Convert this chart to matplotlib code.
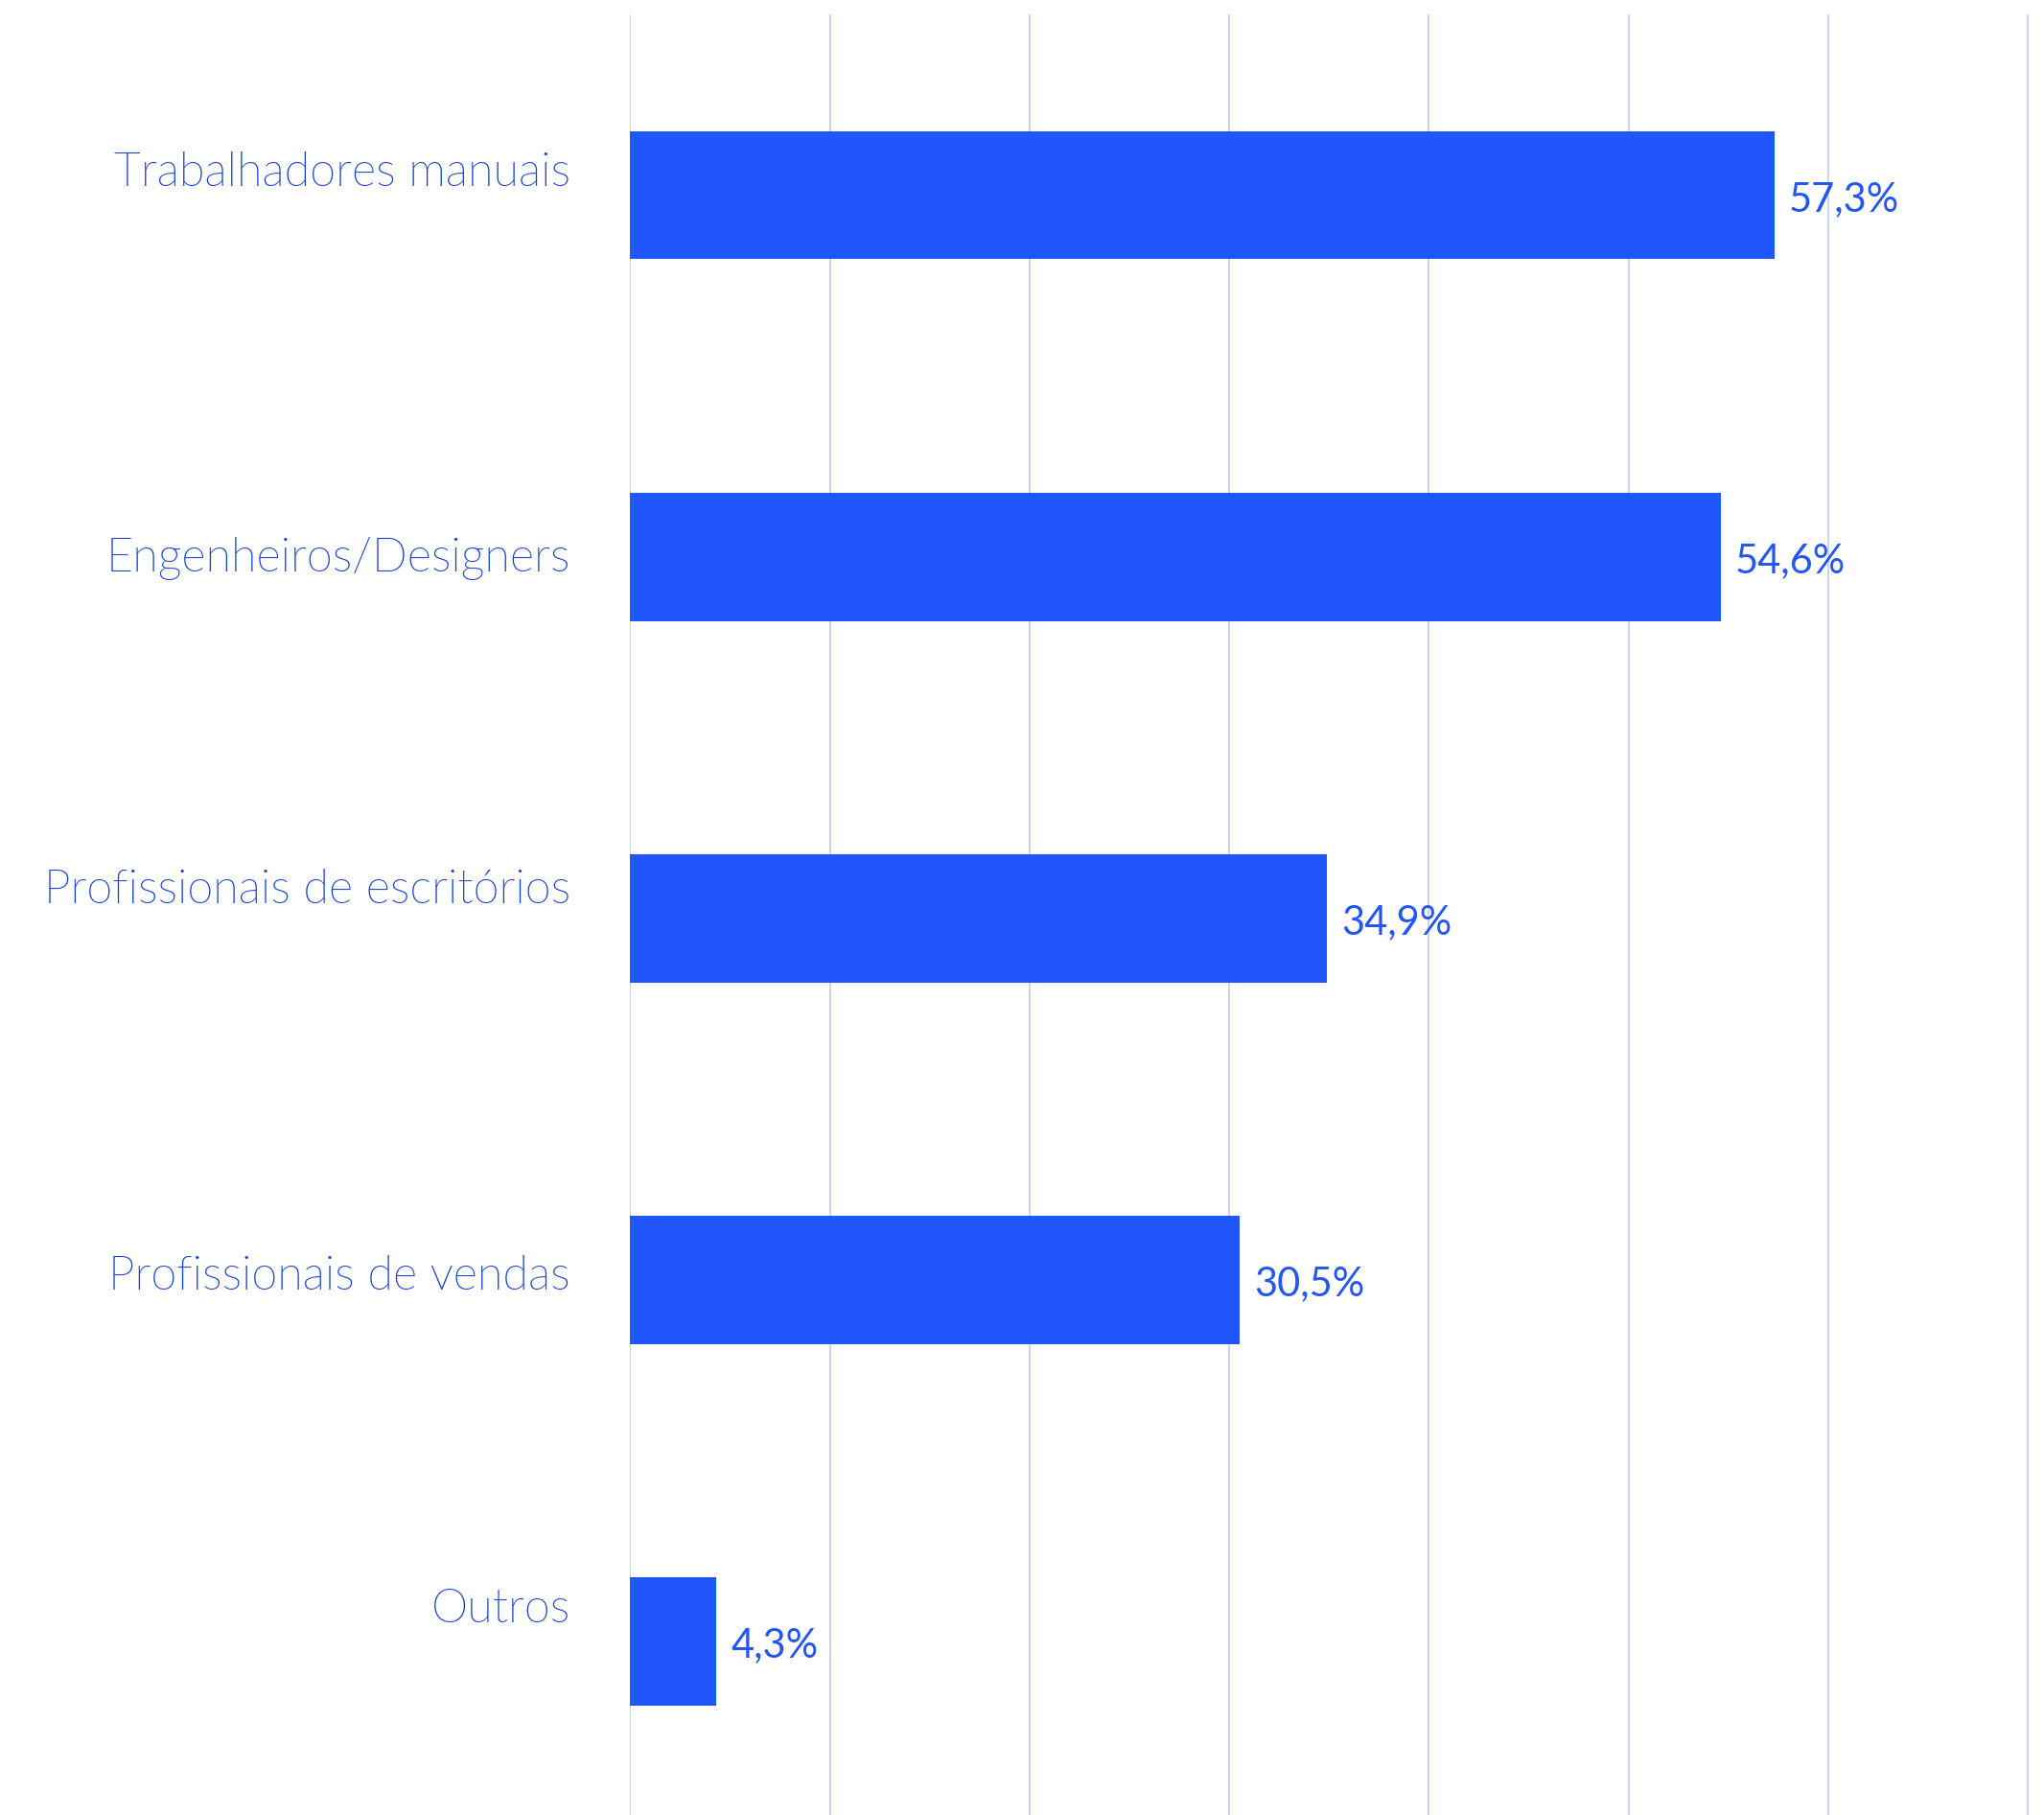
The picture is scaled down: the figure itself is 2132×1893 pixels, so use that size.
import os
import matplotlib.pyplot as plt
from matplotlib import font_manager
from matplotlib.ticker import MultipleLocator

# data
categories = ['Trabalhadores manuais', 'Engenheiros/Designers',
              'Profissionais de escritórios', 'Profissionais de vendas', 'Outros']
values = [57.3, 54.6, 34.9, 30.5, 4.3]
value_labels = ['57,3%', '54,6%', '34,9%', '30,5%', '4,3%']

# the category labels are not placed evenly against the bars in the original;
# baseline distance below bar centre, in pixels
label_baseline_px = [-9.7, 15.2, -15.4, 10.0, -20.3]

bar_color = '#1f57fc'
label_color = '#123fd0'
value_color = '#2356f2'
grid_color = '#c6d4fb'

plt.rcParams['font.family'] = ['Lato', 'DejaVu Sans']

# look for the Lato Light file (not Hairline), fall back to regular Lato
light_file = None
for f in font_manager.fontManager.ttflist:
    base = os.path.basename(f.fname).lower()
    if f.name == 'Lato' and 'light' in base and 'italic' not in base \
            and 'hairline' not in base and 'thin' not in base:
        light_file = f.fname
        break
if light_file:
    label_font = font_manager.FontProperties(fname=light_file, size=35)
else:
    label_font = font_manager.FontProperties(family='Lato', weight='normal', size=33)

W, H = 2132, 1893
fig = plt.figure(figsize=(W / 100, H / 100), dpi=100)
left = 657.3 / W
ax = fig.add_axes([left, 0, 1 - left, (H - 15) / H])

pos = list(range(len(categories)))
ax.barh(pos, values, height=0.355, color=bar_color, zorder=3)

ax.set_xlim(0, 70.8)
ax.set_ylim(4.48, -0.5)
ax.xaxis.set_major_locator(MultipleLocator(10))
ax.grid(axis='x', color=grid_color, linewidth=1.4, zorder=0)
ax.set_xticks(range(0, 71, 10))
ax.tick_params(axis='x', length=0, labelbottom=False)
ax.set_yticks([])
for s in ax.spines.values():
    s.set_visible(False)

# category labels
for p, cat, dy in zip(pos, categories, label_baseline_px):
    ax.annotate(cat, xy=(0, p), xytext=(-45, -dy * 0.72), textcoords='offset points',
                ha='right', va='baseline', fontproperties=label_font,
                color=label_color)

# value labels
for p, v, lab in zip(pos, values, value_labels):
    ax.annotate(lab, xy=(v, p), xytext=(11, -3), textcoords='offset points',
                ha='left', va='center', fontsize=30, color=value_color)

fig.savefig('out.png', dpi=100)
